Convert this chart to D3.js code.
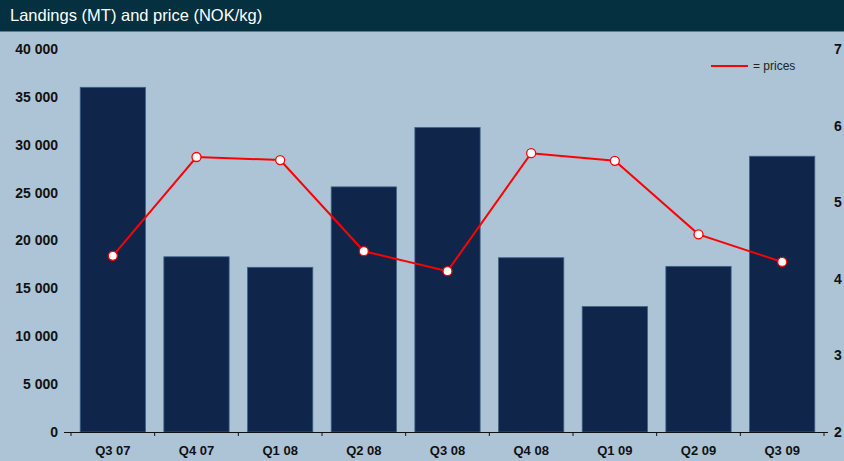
<!DOCTYPE html>
<html>
<head>
<meta charset="utf-8">
<script src="https://cdn.jsdelivr.net/npm/d3@7"></script>
<style>
  body { margin: 0; background: #adc4d7; }
  svg { display: block; font-family: "Liberation Sans", Arial, sans-serif; }
</style>
</head>
<body>
<div id="chart"></div>
<script>
const quarters = ['Q3 07', 'Q4 07', 'Q1 08', 'Q2 08', 'Q3 08', 'Q4 08', 'Q1 09', 'Q2 09', 'Q3 09'];
const landings = [36000, 18300, 17200, 25600, 31800, 18200, 13100, 17300, 28800];
const prices = [4.30, 5.59, 5.55, 4.36, 4.10, 5.64, 5.54, 4.58, 4.22];
const leftTicks = [0, 5000, 10000, 15000, 20000, 25000, 30000, 35000, 40000];
const rightTicks = [2, 3, 4, 5, 6, 7];

const width = 844, height = 461;
const margin = { top: 49, right: 20, bottom: 29, left: 71 };

const svg = d3.select('#chart')
  .append('svg')
  .attr('width', width)
  .attr('height', height);

svg.append('rect')
  .attr('width', width).attr('height', height)
  .attr('fill', '#adc4d7');

// title bar
svg.append('rect')
  .attr('width', width).attr('height', 31)
  .attr('fill', '#04303f');
svg.append('line')
  .attr('x1', 0).attr('x2', width).attr('y1', 31.5).attr('y2', 31.5)
  .attr('stroke', '#5d7d8e').attr('stroke-width', 1);
svg.append('text')
  .attr('x', 10).attr('y', 21)
  .attr('fill', '#ffffff')
  .style('font-size', '16.5px')
  .text('Landings (MT) and price (NOK/kg)');

const x = d3.scaleBand()
  .domain(quarters)
  .range([margin.left, 824])
  .paddingInner(0.22)
  .paddingOuter(0.11);

const yLeft = d3.scaleLinear().domain([0, 40000]).range([432, margin.top]);
const yRight = d3.scaleLinear().domain([2, 7]).range([432, margin.top]);

// bars
svg.selectAll('.bar')
  .data(landings)
  .enter()
  .append('rect')
  .attr('class', 'bar')
  .attr('x', (d, i) => x(quarters[i]))
  .attr('y', d => yLeft(d))
  .attr('width', x.bandwidth())
  .attr('height', d => yLeft(0) - yLeft(d))
  .attr('fill', '#0f264a')
  .attr('stroke', '#3d6189')
  .attr('stroke-width', 0.8);

// x axis
const xAxis = d3.axisBottom(x).tickSize(0).tickPadding(14);
const gx = svg.append('g')
  .attr('transform', `translate(0,${yLeft(0)})`)
  .call(xAxis);
gx.select('.domain').remove();
gx.selectAll('text')
  .attr('fill', '#111')
  .style('font-size', '13px')
  .style('font-weight', 'bold');

svg.append('line')
  .attr('x1', 64).attr('x2', 828)
  .attr('y1', yLeft(0) + 0.5).attr('y2', yLeft(0) + 0.5)
  .attr('stroke', '#111').attr('stroke-width', 1.2);

const step = x.step();
const boundaries = d3.range(quarters.length + 1).map(i => margin.left + i * step);
svg.selectAll('.xtick')
  .data(boundaries)
  .enter()
  .append('line')
  .attr('x1', d => d).attr('x2', d => d)
  .attr('y1', yLeft(0)).attr('y2', yLeft(0) + 4)
  .attr('stroke', '#111').attr('stroke-width', 1);

// left axis labels
svg.selectAll('.ylabel')
  .data(leftTicks)
  .enter()
  .append('text')
  .attr('x', 58)
  .attr('y', d => yLeft(d))
  .attr('dy', '0.35em')
  .attr('text-anchor', 'end')
  .attr('fill', '#111')
  .style('font-size', '14px')
  .style('font-weight', 'bold')
  .text(d => d === 0 ? '0' : d3.format(',')(d).replace(/,/g, ' '));

// right axis labels
svg.selectAll('.y2label')
  .data(rightTicks)
  .enter()
  .append('text')
  .attr('x', 834)
  .attr('y', d => yRight(d))
  .attr('dy', '0.35em')
  .attr('fill', '#111')
  .style('font-size', '14px')
  .style('font-weight', 'bold')
  .text(d => d);

// price line
const line = d3.line()
  .x((d, i) => x(quarters[i]) + x.bandwidth() / 2)
  .y(d => yRight(d));

svg.append('path')
  .datum(prices)
  .attr('d', line)
  .attr('fill', 'none')
  .attr('stroke', '#ff0000')
  .attr('stroke-width', 2);

svg.selectAll('.dot')
  .data(prices)
  .enter()
  .append('circle')
  .attr('cx', (d, i) => x(quarters[i]) + x.bandwidth() / 2)
  .attr('cy', d => yRight(d))
  .attr('r', 4.5)
  .attr('fill', '#ffffff')
  .attr('stroke', '#ff0000')
  .attr('stroke-width', 1.3);

// legend
svg.append('line')
  .attr('x1', 711).attr('x2', 748)
  .attr('y1', 66).attr('y2', 66)
  .attr('stroke', '#ff0000').attr('stroke-width', 2);
svg.append('text')
  .attr('x', 753).attr('y', 66)
  .attr('dy', '0.35em')
  .attr('fill', '#222')
  .style('font-size', '12px')
  .text('= prices');
</script>
</body>
</html>
